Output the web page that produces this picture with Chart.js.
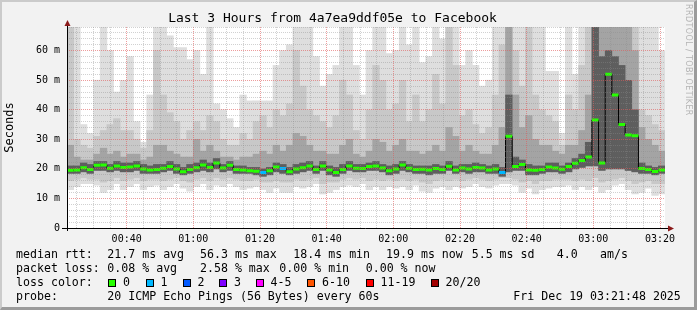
<!DOCTYPE html>
<html>
<head>
<meta charset="utf-8">
<script src="https://cdn.jsdelivr.net/npm/chart.js@4"></script>
<style>
html, body { margin: 0; padding: 0; background: #f2f2f2; }
#wrap { position: relative; width: 697px; height: 310px; overflow: hidden; }
#frame { position: absolute; left: 0; top: 0; width: 697px; height: 310px; box-sizing: border-box;
  background: #f2f2f2; border-style: solid; border-width: 2px 3px 3px 2px;
  border-color: #cbcbcb #9b9b9b #9b9b9b #cbcbcb; }
#c { position: absolute; left: 0; top: 0; }
.t { position: absolute; font-family: 'DejaVu Sans Mono', monospace; font-size: 11.6px; line-height: 14px; white-space: pre; color: #000; }
.sq { position: absolute; width: 6px; height: 6px; border: 1px solid #000; }
#rrd { position: absolute; left: 684px; top: 4px; writing-mode: vertical-rl; font-family: 'DejaVu Sans', sans-serif;
  font-size: 8px; color: #b4b4b4; letter-spacing: 0.4px; }
</style>
</head>
<body>
<div id="wrap">
  <div id="frame"></div>
  <canvas id="c" width="697" height="310"></canvas>
  <div id="legend"></div>
  <div id="rrd">RRDTOOL / TOBI OETIKER</div>
</div>
<script>
// 2-minute columns, from 00:22 to 03:21
var startMinute = 22.1;
var stepMinutes = 2;

var xTickLabels = ['00:40', '01:00', '01:20', '01:40', '02:00', '02:20', '02:40', '03:00', '03:20'];

// median rtt (ms)
var median = [
  19.5, 19.6, 20.4, 19.8, 21.2, 21.3, 20.2, 21.0, 20.5, 20.6,
  21.0, 20.0, 19.6, 19.8, 20.2, 20.8, 20.0, 19.0, 19.8, 20.4,
  21.3, 20.5, 22.0, 20.3, 21.2, 19.8, 19.6, 19.4, 19.2, 18.8,
  19.4, 20.6, 20.1, 19.0, 20.0, 20.4, 21.0, 19.8, 21.0, 19.6,
  18.8, 19.8, 21.0, 20.2, 20.1, 20.8, 21.0, 20.3, 19.4, 20.0,
  21.3, 20.2, 19.8, 19.9, 19.6, 20.1, 19.8, 20.9, 19.6, 20.3,
  20.0, 20.5, 20.3, 19.6, 20.0, 18.8, 31.0, 20.8, 21.5, 19.6,
  19.5, 19.8, 20.6, 20.3, 19.9, 20.8, 21.9, 22.8, 24.0, 36.5,
  22.0, 52.0, 45.0, 35.0, 31.5, 31.2, 20.1, 19.8, 19.1, 19.6
];

// lost pings per column (index into lossColors)
var loss = [
  0, 0, 0, 0, 0, 0, 0, 0, 0, 0,
  0, 0, 0, 0, 0, 0, 0, 0, 0, 0,
  0, 0, 0, 0, 0, 0, 0, 0, 0, 1,
  0, 0, 1, 0, 0, 0, 0, 0, 0, 0,
  0, 0, 0, 0, 0, 0, 0, 0, 0, 0,
  0, 0, 0, 0, 0, 0, 0, 0, 0, 0,
  0, 0, 0, 0, 0, 1, 0, 0, 0, 0,
  0, 0, 0, 0, 0, 0, 0, 0, 0, 0,
  0, 0, 0, 0, 0, 0, 0, 0, 0, 0
];

// smoke: outer (lightest) band
var outerHi = [
  68, 68, 35, 32, 50, 68, 60, 46, 50, 58,
  36, 29, 45, 68, 68, 65, 61, 61, 57, 60,
  52, 68, 42, 40, 37, 34, 45, 43, 43, 43,
  43, 55, 60, 62, 68, 68, 68, 58, 48, 52,
  55, 68, 68, 55, 45, 60, 68, 68, 59, 60,
  68, 62, 68, 56, 58, 68, 64, 68, 68, 55,
  60, 55, 48, 50, 68, 68, 68, 68, 68, 68,
  68, 68, 53, 53, 32, 68, 52, 68, 68, 68,
  68, 68, 68, 68, 68, 68, 68, 68, 68, 60
];
var outerLo = [
  13, 14, 15, 15, 14.5, 12, 13, 15, 13, 14,
  15, 13, 14, 14.5, 13, 14, 15, 13.5, 12.5, 14,
  15, 13, 14.5, 14, 15, 14, 13, 13.5, 14, 13,
  12, 13.5, 12, 12, 14, 13.5, 14, 15, 11.5, 12,
  13, 14, 14.5, 14, 15, 13, 14, 13, 14, 13.5,
  14, 13, 14.5, 12.5, 12, 13.5, 14, 13, 14, 13.5,
  14, 15, 14, 13.5, 14.5, 15, 15, 14.5, 12, 13.5,
  11.5, 13, 13.5, 14, 14, 14.5, 13, 14, 13, 14,
  12, 13, 14.5, 15, 13, 11.5, 12, 13.5, 11, 11.5
];

// middle band
var midHi = [
  68, 30, 28, 27, 31, 33, 35, 37, 33, 33,
  30, 27, 33, 60, 45, 39, 36, 30, 33, 36,
  33, 38, 36, 30, 28, 28, 32, 30, 36, 38,
  34, 40, 38, 42, 60, 48, 40, 38, 36, 34,
  38, 50, 45, 33, 30, 40, 55, 50, 40, 42,
  50, 36, 45, 36, 40, 52, 42, 68, 55, 38,
  40, 35, 32, 34, 45, 62, 68, 60, 48, 68,
  45, 40, 38, 36, 28, 45, 40, 55, 68, 68,
  68, 68, 68, 68, 68, 68, 40, 38, 35, 33
];
var midLo = [
  16, 16.5, 17, 16.5, 16.5, 15.5, 16, 17, 16, 16.5,
  17, 16, 16.5, 16.5, 16, 16.5, 17, 16, 15.5, 16.5,
  17, 16, 17, 16.5, 17, 16.5, 16, 16, 16.5, 15.5,
  15.5, 16, 15.5, 15.5, 16.5, 16, 16.5, 17, 15, 15.5,
  15.5, 16.5, 17, 16.5, 17, 16, 16.5, 16, 16.5, 16,
  16.5, 16, 16.5, 15.5, 15, 16, 16.5, 16, 16.5, 16,
  16.5, 17, 16.5, 16, 16.5, 17, 17, 16.5, 15.5, 16,
  15, 16, 16, 16.5, 16.5, 16.5, 16, 16.5, 16, 17,
  15.5, 16, 16.5, 17, 16, 15, 15.5, 16, 15, 15
];

// inner band
var innerHi = [
  28, 24, 23, 23, 25, 27, 25, 26, 24, 25,
  25, 23, 24, 28, 28, 26, 25, 24, 24, 30,
  26, 28, 26, 24, 24, 23, 24, 24, 25, 26,
  25, 28, 26, 28, 32, 31, 28, 26, 26, 25,
  25, 28, 30, 25, 24, 26, 30, 29, 26, 28,
  30, 26, 26, 25, 26, 28, 26, 34, 31, 26,
  28, 26, 25, 25, 28, 34, 68, 45, 34, 38,
  30, 28, 28, 26, 25, 28, 28, 33, 45, 68,
  68, 68, 68, 68, 68, 60, 34, 30, 28, 26
];

// dark core around the median
var coreHi = [
  21, 21, 22, 21.5, 22.5, 22.5, 21.5, 22.5, 22, 22,
  22.5, 21.5, 21, 21.5, 21.5, 22.5, 21.5, 20.5, 21.5, 22,
  23, 22, 23.5, 21.5, 22.5, 21, 21, 20.5, 20.5, 20,
  20.5, 22, 21.5, 20.5, 21.5, 22, 22.5, 21, 22.5, 21,
  20.5, 21.5, 22.5, 21.5, 21.5, 22, 22.5, 21.5, 21, 21.5,
  22.5, 21.5, 21, 21, 21, 21.5, 21, 22.5, 21, 21.5,
  21.5, 22, 21.5, 21, 21.5, 20.5, 45, 24, 23, 21.5,
  21, 21, 22, 22, 21, 22, 23.5, 25, 29, 68,
  58, 60, 58, 55, 50, 40, 22, 21, 20.5, 21
];
var coreLo = [
  18.5, 18.5, 19, 18.5, 19.5, 19.5, 19, 19.5, 19, 19,
  19.5, 18.5, 18.5, 18.5, 19, 19.5, 18.5, 18, 18.5, 19,
  19.5, 19, 20, 19, 19.5, 18.5, 18.5, 18.5, 18, 17.5,
  18, 19, 18.5, 18, 18.5, 19, 19.5, 18.5, 19.5, 18,
  17.5, 18.5, 19.5, 19, 19, 19.5, 19.5, 19, 18, 18.5,
  19.5, 19, 18.5, 18.5, 18, 18.5, 18.5, 19.5, 18.5, 19,
  18.5, 19, 19, 18.5, 18.5, 17.5, 19, 19.5, 19.5, 18,
  18, 18.5, 19, 19, 18.5, 19, 20, 20.5, 21, 21,
  19.5, 20, 20, 20, 19.5, 19, 18.5, 18.5, 18, 18.5
];

var lossLabels = ['0', '1', '2', '3', '4-5', '6-10', '11-19', '20/20'];
var lossColors = ['#26ff00', '#00b8ff', '#0059ff', '#7e00ff', '#ff00ff', '#ff5500', '#ff0000', '#a10000'];

var rowTitles = ['median rtt:', 'packet loss:', 'loss color:', 'probe:'];
var rttStats = ['21.7 ms avg', '56.3 ms max', '18.4 ms min', '19.9 ms now', '5.5 ms sd', '4.0', 'am/s'];
var lossStats = ['0.08 % avg', '2.58 % max', '0.00 % min', '0.00 % now'];
var probeText = '20 ICMP Echo Pings (56 Bytes) every 60s';
var stampText = 'Fri Dec 19 03:21:48 2025';
var titleText = 'Last 3 Hours from 4a7ea9ddf05e to Facebook';

function fmt(m) {
  var h = Math.floor(m / 60), mm = Math.round(m % 60);
  return (h < 10 ? '0' : '') + h + ':' + (mm < 10 ? '0' : '') + mm;
}

var labels = median.map(function (v, i) { return fmt(startMinute + stepMinutes * i); });

function band(lo, hi) {
  return lo.map(function (v, i) { return [v, hi[i]]; });
}

var mono = 'DejaVu Sans Mono';
var minorGrid = 'rgba(140,140,140,0.4)';
var majorGrid = 'rgba(225,90,90,0.6)';

var axesPlugin = {
  id: 'axesPlugin',
  beforeDraw: function (chart) {
    var ctx = chart.ctx, a = chart.chartArea;
    ctx.save();
    ctx.fillStyle = '#ffffff';
    ctx.fillRect(a.left, a.top, a.right - a.left, a.bottom - a.top);
    ctx.restore();
  },
  afterDraw: function (chart) {
    var ctx = chart.ctx, a = chart.chartArea;
    var x0 = a.left + 0.5, y0 = a.bottom + 0.5;
    ctx.save();
    ctx.strokeStyle = '#000';
    ctx.lineWidth = 1;
    ctx.beginPath();
    ctx.moveTo(a.left - 5, y0); ctx.lineTo(a.right + 4, y0);
    ctx.moveTo(x0, a.bottom + 3); ctx.lineTo(x0, a.top - 4);
    ctx.stroke();
    ctx.fillStyle = '#8b1a1a';
    ctx.beginPath();
    ctx.moveTo(x0 - 3, a.top - 1); ctx.lineTo(x0 + 3, a.top - 1); ctx.lineTo(x0, a.top - 7);
    ctx.closePath(); ctx.fill();
    ctx.beginPath();
    ctx.moveTo(a.right + 3, y0 - 3); ctx.lineTo(a.right + 3, y0 + 3); ctx.lineTo(a.right + 9, y0);
    ctx.closePath(); ctx.fill();
    ctx.restore();
  }
};

var barOpts = { type: 'bar', grouped: false, barPercentage: 1, categoryPercentage: 1, borderWidth: 0 };

new Chart(document.getElementById('c'), {
  data: {
    labels: labels,
    datasets: [
      {
        type: 'line', data: median, borderColor: '#000', borderWidth: 1, stepped: 'middle', fill: false,
        pointStyle: 'line', pointRadius: 3.3, pointHoverRadius: 3.3, pointBorderWidth: 3,
        pointBorderColor: loss.map(function (l) { return lossColors[l]; })
      },
      Object.assign({ data: band(coreLo, coreHi), backgroundColor: '#5e5e5e' }, barOpts),
      Object.assign({ data: band(coreLo, innerHi), backgroundColor: '#a4a4a4' }, barOpts),
      Object.assign({ data: band(midLo, midHi), backgroundColor: '#c8c8c8' }, barOpts),
      Object.assign({ data: band(outerLo, outerHi), backgroundColor: '#dedede' }, barOpts)
    ]
  },
  options: {
    responsive: false,
    animation: false,
    devicePixelRatio: 1,
    layout: { padding: { left: 0, right: 32, top: 0, bottom: 62 } },
    plugins: {
      legend: { display: false },
      tooltip: { enabled: false },
      title: {
        display: true, text: titleText, color: '#000',
        font: { family: mono, size: 13, weight: 'normal' },
        padding: { top: 11, bottom: 0.4 }
      }
    },
    scales: {
      x: { type: 'category', display: false, offset: true },
      xt: {
        type: 'linear', position: 'bottom', min: startMinute, max: startMinute + 179.4,
        afterFit: function (s) { s.height = 20; },
        ticks: {
          stepSize: 5, includeBounds: false, autoSkip: false, maxRotation: 0, padding: 5,
          color: '#000', font: { family: mono, size: 10 },
          callback: function (v) { return v % 20 === 0 ? xTickLabels[(v - 40) / 20] : ''; }
        },
        grid: {
          drawTicks: false, z: 1,
          color: function (c) { return c.tick && c.tick.value % 20 === 0 ? majorGrid : minorGrid; }
        },
        border: { display: false, dash: [1, 1] }
      },
      y: {
        type: 'linear', min: 0, max: 68,
        afterFit: function (s) { s.width = 67; },
        ticks: {
          stepSize: 2, autoSkip: false, padding: 7, color: '#000', font: { family: mono, size: 10 },
          callback: function (v) { return v % 10 === 0 ? (v === 0 ? '0' : v + ' m') : ''; }
        },
        grid: {
          drawTicks: false, z: 1,
          color: function (c) { return c.tick && c.tick.value % 10 === 0 && c.tick.value > 0 ? majorGrid : minorGrid; }
        },
        border: { display: false, dash: [1, 1] },
        title: {
          display: true, text: 'Seconds', color: '#000',
          font: { family: mono, size: 12 }, padding: { top: 3, bottom: 0 }
        }
      }
    }
  },
  plugins: [axesPlugin]
});

// text legend below the graph
var legend = document.getElementById('legend');
function put(text, x, y) {
  var d = document.createElement('div');
  d.className = 't';
  d.textContent = text;
  d.style.left = x + 'px';
  d.style.top = y + 'px';
  legend.appendChild(d);
}
var rowTop = [247.3, 261.3, 275.3, 289];
rowTitles.forEach(function (t, i) { put(t, 16, rowTop[i]); });
var rttX = [107.3, 200, 293.3, 386, 471.7, 556.7, 600];
rttStats.forEach(function (t, i) { put(t, rttX[i], rowTop[0]); });
var lossX = [107.3, 200, 279.3, 365.7];
lossStats.forEach(function (t, i) { put(t, lossX[i], rowTop[1]); });
var sqX = [108, 145.5, 182.5, 219, 255.5, 307, 365.5, 430.5];
lossLabels.forEach(function (t, i) {
  var s = document.createElement('div');
  s.className = 'sq';
  s.style.left = sqX[i] + 'px';
  s.style.top = '278.5px';
  s.style.background = lossColors[i];
  legend.appendChild(s);
  put(t, sqX[i] + 15, rowTop[2]);
});
put(probeText, 107.3, rowTop[3]);
put(stampText, 513.3, rowTop[3]);
</script>
</body>
</html>
